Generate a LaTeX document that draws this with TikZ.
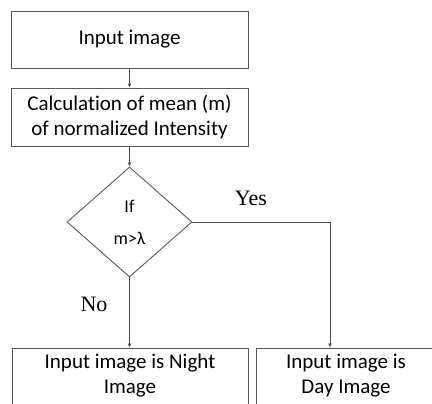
\documentclass[tikz,border=0pt]{standalone}
\usepackage{fontspec}
\setmainfont[Ligatures=NoCommon]{Carlito}
\newfontfamily\labelfont{Liberation Serif}
\usetikzlibrary{shapes.geometric,arrows.meta}
\begin{document}
\begin{tikzpicture}[x=1pt,y=-1pt,
    box/.style={draw=black!65,line width=0.9pt,rectangle,inner sep=0pt,
      align=center,font=\fontsize{21}{25}\selectfont},
    decide/.style={draw=black!65,line width=0.9pt,diamond,inner sep=0pt,
      minimum width=125pt,minimum height=110pt,align=center,
      font=\fontsize{18}{32}\selectfont},
    flow/.style={draw=black!70,line width=0.8pt,-{Latex[length=4pt,width=4pt]}},
    yesno/.style={font=\labelfont\fontsize{22}{24}\selectfont}]
  \useasboundingbox (0,0) rectangle (432,404);
  \node[box,minimum width=237pt,minimum height=57pt] (input) at (129.5,39.5) {Input image};
  \node[box,minimum width=237pt,minimum height=58pt] (mean) at (129.5,117)
    {Calculation of mean (m)\\of normalized Intensity};
  \node[decide] (test) at (129.5,222) {If\\m>λ};
  \node[box,minimum width=236pt,minimum height=56pt] (night) at (130,376)
    {Input image is Night\\Image};
  \node[box,minimum width=180pt,minimum height=56pt] (day) at (346,376)
    {Input image is\\Day Image};
  \draw[flow] (input) -- (mean);
  \draw[flow] (mean) -- (test);
  \draw[flow] (test.south) -- (test.south |- night.north);
  \draw[flow] (test.east) -| ([xshift=-16pt]day.north);
  \node[yesno] (yes) at (251,198) {Yes};
  \node[yesno] (no) at (94,304) {No};
\end{tikzpicture}
\end{document}
